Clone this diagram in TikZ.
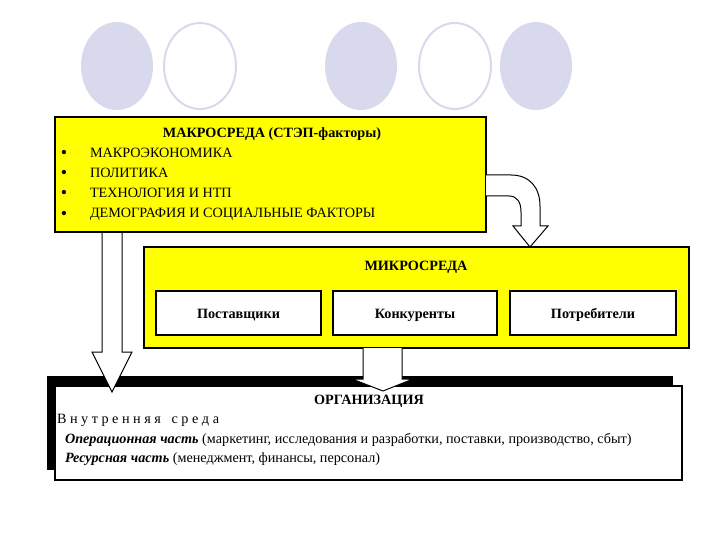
\documentclass[tikz,border=0pt]{standalone}
\usepackage{fontspec}
\setmainfont{Liberation Serif}
\definecolor{lav}{RGB}{217,217,237}
\definecolor{yel}{RGB}{255,255,0}
\tikzset{
  yellowbox/.style={draw=black, fill=yel, line width=1.2pt, inner sep=0pt, outer sep=0pt, anchor=north west},
  whitebox/.style={draw=black, fill=white, line width=1.2pt, inner sep=0pt, outer sep=0pt, anchor=north west},
  dotfill/.style={fill=lav},
  dotring/.style={draw=lav, fill=white, line width=2pt},
  txt/.style={inner sep=0pt, outer sep=0pt, font=\fontsize{14.2}{17}\selectfont},
  btxt/.style={inner sep=0pt, outer sep=0pt, font=\fontsize{14.2}{17}\selectfont\bfseries},
  bul/.style={inner sep=0pt, outer sep=0pt, font=\fontsize{18}{18}\selectfont},
  blockarrow/.style={draw=black, fill=white, line width=1pt, line join=miter},
}
\begin{document}
\begin{tikzpicture}[x=1pt,y=-1pt]
\useasboundingbox[fill=white] (0,0) rectangle (720,540);
% decorative circles
\fill[dotfill] (117,66) ellipse [x radius=36, y radius=44];
\draw[dotring] (200,66) ellipse [x radius=36, y radius=43];
\fill[dotfill] (361,66) ellipse [x radius=36, y radius=44];
\draw[dotring] (455,66) ellipse [x radius=36, y radius=43];
\fill[dotfill] (536,66) ellipse [x radius=36, y radius=44];

% macro environment
\node[yellowbox, minimum width=431pt, minimum height=115pt] (macro) at (55,117) {};
\node[btxt, anchor=base] (mtitle) at (272,138) {МАКРОСРЕДА (СТЭП-факторы)};
\node[bul, anchor=base] (b1) at (64,159) {\textbullet};
\node[txt, anchor=base west] (m1) at (90,158) {МАКРОЭКОНОМИКА};
\node[bul, anchor=base] (b2) at (64,179) {\textbullet};
\node[txt, anchor=base west] (m2) at (90,178) {ПОЛИТИКА};
\node[bul, anchor=base] (b3) at (64,199) {\textbullet};
\node[txt, anchor=base west] (m3) at (90,198) {ТЕХНОЛОГИЯ И НТП};
\node[bul, anchor=base] (b4) at (64,219) {\textbullet};
\node[txt, anchor=base west] (m4) at (90,218) {ДЕМОГРАФИЯ И СОЦИАЛЬНЫЕ ФАКТОРЫ};

% micro environment
\node[yellowbox, minimum width=545pt, minimum height=101pt] (micro) at (144,247) {};
\node[btxt, anchor=base] (ctitle) at (416,270) {МИКРОСРЕДА};
\node[whitebox, minimum width=165pt, minimum height=44pt] (sup) at (156,291) {};
\node[whitebox, minimum width=164pt, minimum height=44pt] (comp) at (333,291) {};
\node[whitebox, minimum width=166pt, minimum height=44pt] (cons) at (510,291) {};
\node[btxt, anchor=base] at ([yshift=-5pt]sup.center) {Поставщики};
\node[btxt, anchor=base] at ([yshift=-5pt]comp.center) {Конкуренты};
\node[btxt, anchor=base] at ([yshift=-5pt]cons.center) {Потребители};

% organisation
\fill[black] (47,376) rectangle (673,470);
\node[whitebox, minimum width=627pt, minimum height=94pt] (org) at (55,386) {};
\node[btxt, anchor=base] (otitle) at (369,404) {ОРГАНИЗАЦИЯ};
\node[txt, anchor=base west] (inner) at (57,423) {В н у т р е н н я я \ \ с р е д а};
\node[txt, anchor=base west] (op) at (65,443) {\textbf{\textit{Операционная часть}} (маркетинг, исследования и разработки, поставки, производство, сбыт)};
\node[txt, anchor=base west] (res) at (65,462) {\textbf{\textit{Ресурсная часть}} (менеджмент, финансы, персонал)};

% block arrows
\coordinate (la) at (102,233);
\draw[blockarrow] (la) -- (102,352) -- (92,352) -- (112,392) -- (132,352) -- (122,352) -- (122,233);
\coordinate (ma) at (363,348);
\draw[blockarrow] (ma) -- (363,379) -- (352,379) -- (383,391) -- (413,379) -- (402,379) -- (402,348);
\draw[blockarrow] (486,175) -- (511,175) .. controls (530,175) and (540,188) .. (540,206) -- (540,226)
  -- (548,226) -- (530,247) -- (513,226) -- (521,226) -- (521,212)
  .. controls (521,202) and (517,196) .. (509,196) -- (486,196);
\end{tikzpicture}
\end{document}
